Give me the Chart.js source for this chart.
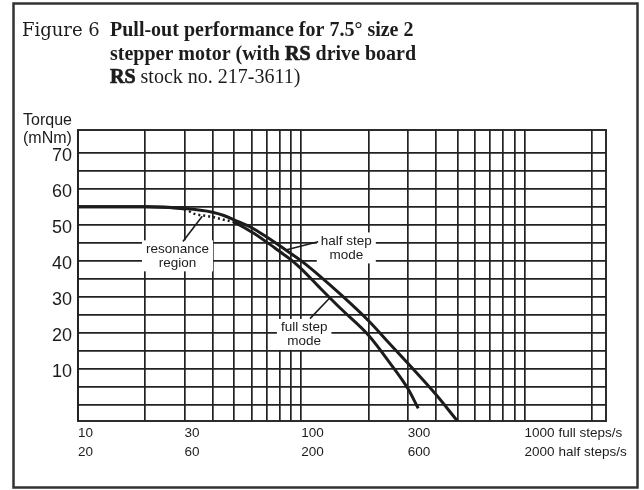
<!DOCTYPE html>
<html>
<head>
<meta charset="utf-8">
<title>Pull-out performance for 7.5° size 2 stepper motor</title>
<script src="https://cdn.jsdelivr.net/npm/chart.js@4.4.1/dist/chart.umd.min.js"></script>
<style>
  html, body { margin: 0; padding: 0; background: #fff; }
  #wrap { width: 644px; height: 490px; }
</style>
</head>
<body>
<div id="wrap"><canvas id="chart" width="644" height="490"></canvas></div>
<script>
// speed in full steps/s, torque in mNm
const halfStepX = [10, 20, 30, 40, 45, 50, 60, 70, 80, 90, 100, 120, 150, 200, 250, 300, 400, 500];
const halfStepY = [55, 55, 54.5, 53.5, 52.6, 51.4, 49.2, 46.6, 44.2, 42.0, 40.0, 36.0, 30.7, 23.4, 16.9, 11.6, 3.0, -4.4];

const fullStepX = [10, 20, 30, 33, 40, 45, 50, 60, 70, 80, 90, 100, 120, 150, 200, 250, 300, 334];
const fullStepY = [55, 55, 54.4, 53.1, 52.2, 51.4, 50.7, 48.0, 45.2, 42.6, 40.3, 37.8, 32.8, 26.8, 19.4, 11.6, 4.6, -0.9];

// resonance region on the full step curve (dotted), by point index
const resonanceFrom = 2;
const resonanceTo = 6;

// axis grid and labels
const xGrid = [10, 20, 30, 40, 50, 60, 70, 80, 90, 100, 200, 300, 400, 500, 600, 700, 800, 900, 1000, 2000];
const xLabelValues = [10, 30, 100, 300, 1000];
const xFullLabels = ['10', '30', '100', '300', '1000 full steps/s'];
const xHalfLabels = ['20', '60', '200', '600', '2000 half steps/s'];
const yGrid = [0, 5, 10, 15, 20, 25, 30, 35, 40, 45, 50, 55, 60, 65, 70];
const yLabelValues = [10, 20, 30, 40, 50, 60, 70];

const notes = [
    { lines: ['resonance', 'region'], x: 27.9, y: 41.4, from: [29.5, 45.4], to: [36, 52.4] },
    { lines: ['half step', 'mode'], x: 159, y: 43.6, from: [119, 45.3], to: [86, 43.1] },
    { lines: ['full step', 'mode'], x: 103, y: 19.6, from: [109.4, 24.0], to: [134, 29.7] }
];

const ink = '#1c1c1c';
const sans = '"Liberation Sans", Arial, sans-serif';

function toPoints(xs, ys) {
    return xs.map((x, i) => ({ x: x, y: ys[i] }));
}

function drawRuns(ctx, x, y, runs) {
    runs.forEach(run => {
        ctx.font = run.font;
        ctx.fillText(run.text, x, y);
        if (run.heavy) {
            ctx.lineWidth = 0.7;
            ctx.strokeText(run.text, x, y);
        }
        x += ctx.measureText(run.text).width;
    });
}

function inResonance(c) {
    return c.p0DataIndex >= resonanceFrom && c.p1DataIndex <= resonanceTo;
}

const decorations = {
    id: 'decorations',
    beforeDraw(chart) {
        const ctx = chart.ctx;
        ctx.save();
        ctx.fillStyle = '#fff';
        ctx.fillRect(0, 0, chart.width, chart.height);
        ctx.restore();
    },
    afterDatasetsDraw(chart) {
        const ctx = chart.ctx;
        const xs = chart.scales.x;
        const ys = chart.scales.y;
        const area = chart.chartArea;

        // plot border
        ctx.save();
        ctx.strokeStyle = '#222';
        ctx.lineWidth = 1.9;
        ctx.strokeRect(area.left, area.top, area.right - area.left, area.bottom - area.top);

        // curve labels with white boxes and leader lines
        ctx.font = '13.5px ' + sans;
        ctx.textAlign = 'center';
        ctx.textBaseline = 'middle';
        notes.forEach(n => {
            const cx = xs.getPixelForValue(n.x);
            const cy = ys.getPixelForValue(n.y);
            const w = Math.max(...n.lines.map(t => ctx.measureText(t).width)) + 8;
            const h = n.lines.length * 14 + 3;
            ctx.fillStyle = '#fff';
            ctx.fillRect(cx - w / 2, cy - h / 2, w, h);
            ctx.fillStyle = ink;
            n.lines.forEach((t, i) => {
                ctx.fillText(t, cx, cy - h / 2 + 8.5 + i * 14);
            });
            ctx.strokeStyle = ink;
            ctx.lineWidth = 1.6;
            ctx.beginPath();
            ctx.moveTo(xs.getPixelForValue(n.from[0]), ys.getPixelForValue(n.from[1]));
            ctx.lineTo(xs.getPixelForValue(n.to[0]), ys.getPixelForValue(n.to[1]));
            ctx.stroke();
        });
        ctx.restore();
    },
    afterDraw(chart) {
        const ctx = chart.ctx;
        ctx.save();

        // outer frame
        ctx.strokeStyle = '#333';
        ctx.lineWidth = 2.5;
        ctx.strokeRect(13.5, 3.5, 624, 484);

        // figure title
        ctx.fillStyle = ink;
        ctx.strokeStyle = ink;
        ctx.textAlign = 'left';
        ctx.textBaseline = 'alphabetic';
        const serif = '"Liberation Serif", "Times New Roman", serif';
        const bold = 'bold 20px ' + serif;
        const plain = '20px ' + serif;
        drawRuns(ctx, 22, 36, [{ text: 'Figure 6', font: '18px "DejaVu Serif", serif' }]);
        drawRuns(ctx, 110, 36, [{ text: 'Pull-out performance for 7.5° size 2', font: bold }]);
        drawRuns(ctx, 110, 59.5, [
            { text: 'stepper motor (with ', font: bold },
            { text: 'RS', font: bold, heavy: true },
            { text: ' drive board', font: bold }
        ]);
        drawRuns(ctx, 110, 83, [
            { text: 'RS', font: bold, heavy: true },
            { text: ' stock no. 217-3611)', font: plain }
        ]);

        // y axis title
        ctx.font = '16px ' + sans;
        ctx.textBaseline = 'middle';
        ctx.fillText('Torque', 23, 121);
        ctx.fillText('(mNm)', 23, 139);
        ctx.restore();
    }
};

const ctx = document.getElementById('chart').getContext('2d');

const chart = new Chart(ctx, {
    type: 'line',
    data: {
        datasets: [
            {
                label: 'half step mode',
                data: toPoints(halfStepX, halfStepY),
                borderColor: ink,
                borderWidth: 3,
                pointRadius: 0,
                cubicInterpolationMode: 'monotone',
                fill: false
            },
            {
                label: 'full step mode',
                data: toPoints(fullStepX, fullStepY),
                borderColor: ink,
                borderWidth: 3,
                pointRadius: 0,
                cubicInterpolationMode: 'monotone',
                fill: false,
                segment: {
                    borderDash: c => inResonance(c) ? [2, 3] : undefined,
                    borderWidth: c => inResonance(c) ? 2.5 : undefined
                }
            }
        ]
    },
    options: {
        responsive: false,
        animation: false,
        events: [],
        layout: {
            padding: { left: 0, top: 130, right: 38, bottom: 0 }
        },
        plugins: {
            legend: { display: false },
            title: { display: false },
            tooltip: { enabled: false }
        },
        scales: {
            x: {
                type: 'logarithmic',
                min: 10,
                max: 2315,
                afterBuildTicks: s => { s.ticks = xGrid.map(v => ({ value: v })); },
                afterFit: s => { s.height = 69; },
                border: { display: false },
                grid: { color: '#222', lineWidth: 1.7, drawTicks: false },
                ticks: {
                    autoSkip: false,
                    maxRotation: 0,
                    minRotation: 0,
                    align: 'start',
                    padding: 3,
                    color: ink,
                    font: { family: sans, size: 13.5, lineHeight: 1.42 },
                    callback: value => {
                        const i = xLabelValues.indexOf(value);
                        return i >= 0 ? [xFullLabels[i], xHalfLabels[i]] : '';
                    }
                }
            },
            y: {
                min: -4.4,
                max: 76.3,
                afterBuildTicks: s => { s.ticks = yGrid.map(v => ({ value: v })); },
                afterFit: s => { s.width = 78; },
                border: { display: false },
                grid: { color: '#222', lineWidth: 1.7, drawTicks: false },
                ticks: {
                    autoSkip: false,
                    padding: 6,
                    labelOffset: 3,
                    color: ink,
                    font: { family: sans, size: 18 },
                    callback: value => yLabelValues.includes(value) ? String(value) : ''
                }
            }
        }
    },
    plugins: [decorations]
});
</script>
</body>
</html>
